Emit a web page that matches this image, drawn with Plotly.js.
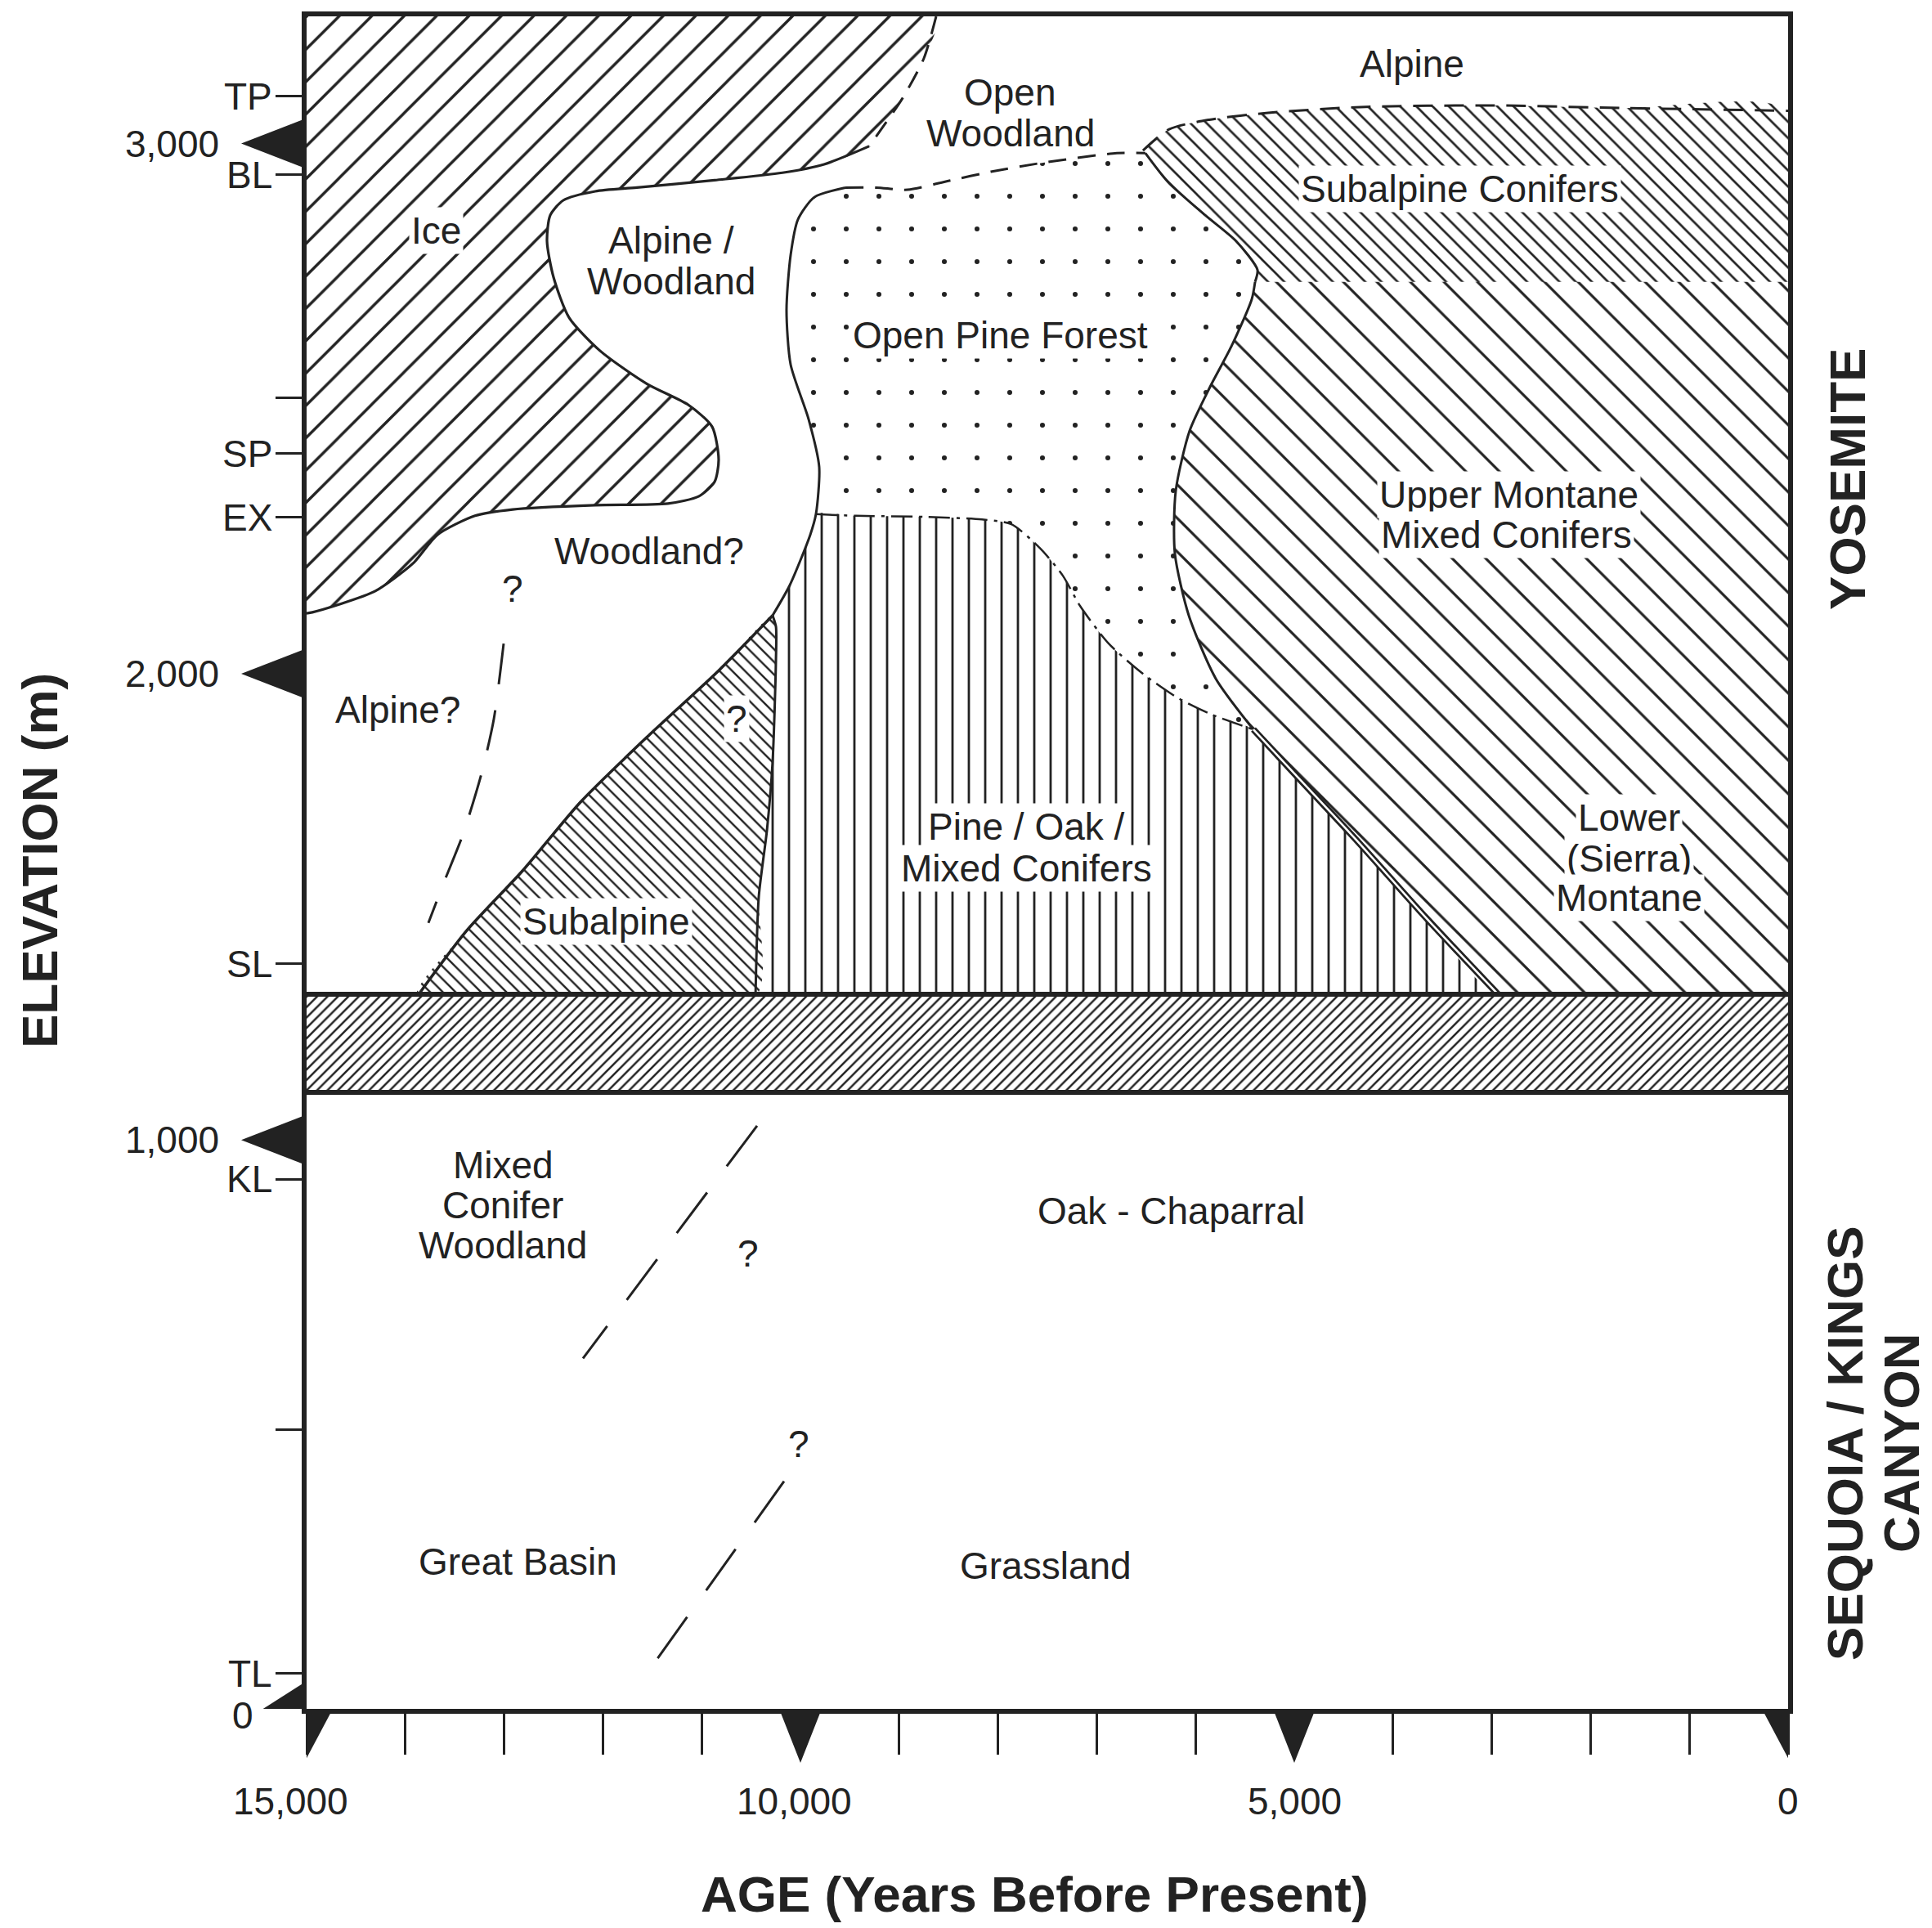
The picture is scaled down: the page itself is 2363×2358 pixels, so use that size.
<!DOCTYPE html>
<html>
<head>
<meta charset="utf-8">
<script src="https://cdn.plot.ly/plotly-3.0.1.min.js"></script>
<style>html,body{margin:0;padding:0;background:#fff}#chart{width:2363px;height:2358px}</style>
</head>
<body>
<div id="chart"></div>
<script>
// ---------------- DATA (age in years BP, elevation in m) ----------------
// axis extents
const ageRange = [15000, 0];
const yosemiteElevRange = [1391, 3240];
const sequoiaElevRange = [0, 1088];

// x axis ticks
const ageMinorTicks = [15000, 14000, 13000, 12000, 11000, 10000, 9000, 8000, 7000, 6000, 5000, 4000, 3000, 2000, 1000, 0];
const ageMajorTicks = [15000, 10000, 5000, 0];
const ageMajorLabels = ['15,000', '10,000', '5,000', '0'];

// y axis: elevation markers and site ticks
const yoMarkElev = [3000, 2000];
const yoMarkText = ['3,000', '2,000'];
const sqMarkElev = [1000, 0];
const sqMarkText = ['1,000', '0'];
const yoSiteElev = [3089, 2941, 2521, 2415, 2295, 1453];
const yoSiteText = ['TP', 'BL', '', 'SP', 'EX', 'SL'];
const sqSiteElev = [931, 491, 62];
const sqSiteText = ['KL', '', 'TL'];

// ---- Yosemite boundaries ----
const iceDashAge = [8626, 8750, 8965, 9305];
const iceDashElev = [3240, 3161, 3086, 2995];
const iceEdgeAge = [9305, 9760, 10182, 10869, 11656, 12078, 12401, 12533, 12566, 12500, 12343, 12028, 11556, 11134, 10894, 10828, 10869, 11027, 11341, 12078, 12914, 13295, 13676, 13924, 14305, 14685, 14942, 15000];
const iceEdgeElev = [2995, 2961, 2945, 2931, 2917, 2910, 2893, 2865, 2816, 2748, 2672, 2609, 2547, 2507, 2466, 2404, 2362, 2335, 2321, 2318, 2310, 2298, 2262, 2208, 2156, 2130, 2116, 2114];

const opfLeftAge = [9545, 9859, 10025, 10099, 10141, 10099, 9917, 9810, 9843, 9901, 10108, 10282];
const opfLeftElev = [2917, 2899, 2857, 2790, 2686, 2583, 2480, 2390, 2301, 2262, 2167, 2110];

const subLeftAge = [10282, 10828, 11523, 12227, 12806, 13386, 13882];
const subLeftElev = [2110, 2006, 1886, 1758, 1630, 1514, 1391];

const opfTopAge = [9545, 9230, 8916, 8493, 8071, 7542, 6797, 6507];
const opfTopElev = [2917, 2917, 2913, 2930, 2947, 2964, 2982, 2982];

const pineTopAge = [9843, 9437, 8742, 8162, 7864, 7575, 7343, 7169, 6879, 6532, 6184, 5836, 5414];
const pineTopElev = [2301, 2298, 2296, 2291, 2282, 2237, 2185, 2128, 2057, 2000, 1955, 1923, 1895];

const rightUpperAge = [6507, 6275, 5902, 5588, 5373, 5397];
const rightUpperElev = [2982, 2927, 2865, 2816, 2762, 2739];
const rightLowerAge = [5397, 5431, 5638, 5853, 6060, 6200, 6209, 6068, 5795, 5414];
const rightLowerElev = [2739, 2706, 2617, 2541, 2458, 2345, 2227, 2110, 1991, 1895];

const lowerMontAge = [5414, 5000, 4379, 3667, 2914];
const lowerMontElev = [1895, 1812, 1688, 1540, 1391];

const subConTopAge = [6532, 6267, 5861, 5265, 4330, 2997, 1664, 0];
const subConTopElev = [2987, 3027, 3045, 3058, 3069, 3072, 3067, 3062];
const subConBaseElev = 2739;

const subRightAge = [10282, 10248, 10248, 10282, 10339, 10422, 10455];
const subRightElev = [2110, 2089, 2026, 1833, 1705, 1579, 1391];

const alpineQAge = [13005, 13104, 13229, 13419, 13609, 13767];
const alpineQElev = [2057, 1915, 1812, 1696, 1607, 1530];

// ---- Sequoia / Kings Canyon boundaries ----
const sqLine1Age = [10439, 12202];
const sqLine1Elev = [1025, 616];
const sqLine2Age = [10166, 11457];
const sqLine2Elev = [400, 86];

// ---- labels ----
const topLabelText = ['Ice', 'Alpine /', 'Woodland', 'Open', 'Woodland', 'Alpine', 'Subalpine Conifers', 'Open Pine Forest', 'Upper Montane', 'Mixed Conifers', 'Woodland?', '?', 'Alpine?', '?', 'Pine / Oak /', 'Mixed Conifers', 'Lower', '(Sierra)', 'Montane', 'Subalpine'];
const topLabelAge = [13692, 11308, 11308, 7873, 7873, 3808, 3320, 7972, 2823, 2848, 11532, 12914, 14073, 10646, 7715, 7715, 1614, 1614, 1614, 11970];
const topLabelElev = [2836, 2818, 2741, 3097, 3019, 3150, 2914, 2638, 2338, 2262, 2231, 2160, 1932, 1915, 1711, 1633, 1728, 1652, 1577, 1533];

const botLabelText = ['Mixed', 'Conifer', 'Woodland', 'Oak - Chaparral', '?', '?', 'Great Basin', 'Grassland'];
const botLabelAge = [13013, 13013, 13013, 6250, 10530, 10017, 12864, 7517];
const botLabelElev = [956, 885, 815, 876, 800, 466, 258, 252];

// ---------------- DRAWING ----------------
const INK = '#222222';
const FONT = 'Liberation Sans, Arial, Helvetica, sans-serif';
const BOLD = 'Liberation Sans, Arial, Helvetica, sans-serif';
const SMOOTH = 0.7;
// labels that sit inside hatched areas get a white knock-out box
const knockout = new Set(['Ice', 'Subalpine Conifers', 'Open Pine Forest', 'Upper Montane', 'Mixed Conifers', 'Pine / Oak /', 'Lower', '(Sierra)', 'Montane', 'Subalpine']);

function pat(shape, size, solidity) {
  return {shape: shape, size: size, solidity: solidity, fgcolor: INK, bgcolor: 'white', fillmode: 'replace'};
}
function poly(x, y, pattern, yaxis, linear) {
  return {type: 'scatter', mode: 'lines', x: x, y: y, xaxis: 'x', yaxis: yaxis, fill: 'toself',
    fillcolor: 'white', fillpattern: pattern,
    line: {width: 0, color: 'rgba(0,0,0,0)', shape: linear ? 'linear' : 'spline', smoothing: SMOOTH},
    hoverinfo: 'skip', showlegend: false};
}
function edge(x, y, yaxis, width, dash, color) {
  return {type: 'scatter', mode: 'lines', x: x, y: y, xaxis: 'x', yaxis: yaxis,
    line: {color: color || INK, width: width, dash: dash || 'solid', shape: 'spline', smoothing: SMOOTH},
    hoverinfo: 'skip', showlegend: false};
}
const rev = a => a.slice().reverse();
const topElev = yosemiteElevRange[1], baseElev = yosemiteElevRange[0];
const ageOld = ageRange[0], ageNow = ageRange[1];

// polygons
const iceX = [ageOld].concat(iceDashAge, iceEdgeAge.slice(1));
const iceY = [topElev].concat(iceDashElev, iceEdgeElev.slice(1));

const opfX = opfLeftAge.slice(0, 9).concat(pineTopAge.slice(1), rev(rightLowerAge).slice(1), rev(rightUpperAge).slice(1), rev(opfTopAge).slice(1));
const opfY = opfLeftElev.slice(0, 9).concat(pineTopElev.slice(1), rev(rightLowerElev).slice(1), rev(rightUpperElev).slice(1), rev(opfTopElev).slice(1));

const pineX = pineTopAge.concat(lowerMontAge.slice(1), rev(subRightAge), rev(opfLeftAge.slice(8)).slice(1));
const pineY = pineTopElev.concat(lowerMontElev.slice(1), rev(subRightElev), rev(opfLeftElev.slice(8)).slice(1));

const subX = subRightAge.concat(rev(subLeftAge));
const subY = subRightElev.concat(rev(subLeftElev));

const scX = rightUpperAge.concat([ageNow, ageNow], rev(subConTopAge).slice(1));
const scY = rightUpperElev.concat([subConBaseElev, subConTopElev[subConTopElev.length - 1]], rev(subConTopElev).slice(1));

const umX = rightLowerAge.concat(lowerMontAge.slice(1), [ageNow, ageNow]);
const umY = rightLowerElev.concat(lowerMontElev.slice(1), [baseElev, subConBaseElev]);

const traces = [
  poly(iceX, iceY, pat('/', 28, 0.12), 'y'),
  poly(opfX, opfY, pat('.', 40, 0.018), 'y'),
  poly(pineX, pineY, pat('|', 20, 0.14), 'y'),
  poly(subX, subY, pat('\\', 11, 0.22), 'y'),
  poly(scX, scY, pat('\\', 14, 0.19), 'y'),
  poly(umX, umY, pat('\\', 29, 0.11), 'y'),
  // break band between the two panels
  poly([ageOld, ageNow, ageNow, ageOld], [0, 0, 1, 1], pat('/', 9, 0.28), 'y3', true),
  // boundaries
  edge(iceDashAge, iceDashElev, 'y', 3, '22px,14px'),
  edge(iceEdgeAge, iceEdgeElev, 'y', 3.2),
  edge(opfLeftAge, opfLeftElev, 'y', 3),
  edge(subLeftAge, subLeftElev, 'y', 3.5),
  edge(opfTopAge, opfTopElev, 'y', 3, '22px,14px'),
  edge(pineTopAge, pineTopElev, 'y', 2.5, '26px,8px,4px,8px'),
  edge(rightUpperAge, rightUpperElev, 'y', 3),
  edge(rightLowerAge, rightLowerElev, 'y', 3),
  edge(lowerMontAge, lowerMontElev, 'y', 8),
  edge(lowerMontAge, lowerMontElev, 'y', 2.5, 'solid', 'white'),
  edge(subConTopAge, subConTopElev, 'y', 3, '24px,14px'),
  edge(subRightAge, subRightElev, 'y', 3),
  edge(alpineQAge, alpineQElev, 'y', 3, '50px,32px'),
  edge(sqLine1Age, sqLine1Elev, 'y2', 3, '62px,40px'),
  edge(sqLine2Age, sqLine2Elev, 'y2', 3, '62px,40px')
];

// annotations
const ann = [];
topLabelText.forEach((t, i) => {
  ann.push({xref: 'x', yref: 'y', x: topLabelAge[i], y: topLabelElev[i], text: t, showarrow: false,
    font: {family: FONT, size: 46, color: INK}, bgcolor: knockout.has(t) || (t === '?' && i === 13) ? 'white' : 'rgba(0,0,0,0)', borderpad: 2});
});
botLabelText.forEach((t, i) => {
  ann.push({xref: 'x', yref: 'y2', x: botLabelAge[i], y: botLabelElev[i], text: t, showarrow: false,
    font: {family: FONT, size: 46, color: INK}});
});
// y tick labels
function yLab(yref, v, t, xshift, yshift) {
  ann.push({xref: 'paper', yref: yref, x: 0, y: v, text: t, showarrow: false, xanchor: 'right', yanchor: 'middle',
    xshift: xshift, yshift: yshift || 0, font: {family: FONT, size: 46, color: INK}});
}
yoMarkElev.forEach((v, i) => yLab('y', v, yoMarkText[i], -105));
sqMarkElev.forEach((v, i) => yLab('y2', v, sqMarkText[i], v === 0 ? -63 : -105, v === 0 ? -8 : 0));
yoSiteElev.forEach((v, i) => { if (yoSiteText[i]) yLab('y', v, yoSiteText[i], -40); });
sqSiteElev.forEach((v, i) => { if (sqSiteText[i]) yLab('y2', v, sqSiteText[i], -40); });
// x tick labels
ageMajorTicks.forEach((v, i) => {
  ann.push({xref: 'x', yref: 'paper', x: v, y: 0, text: ageMajorLabels[i], showarrow: false, xanchor: 'center', yanchor: 'middle',
    yshift: -113, xshift: i === 0 ? -20 : (i === 1 ? -8 : 0), font: {family: FONT, size: 46, color: INK}});
});
// titles
ann.push({xref: 'paper', yref: 'paper', x: 0.4917, y: -0.1092, text: '<b>AGE (Years Before Present)</b>', showarrow: false,
  xanchor: 'center', yanchor: 'middle', font: {family: BOLD, size: 62, color: INK}});
ann.push({xref: 'paper', yref: 'paper', x: -0.1805, y: 0.5014, text: '<b>ELEVATION (m)</b>', showarrow: false, textangle: -90,
  xanchor: 'center', yanchor: 'middle', font: {family: BOLD, size: 62, color: INK}});
ann.push({xref: 'paper', yref: 'paper', x: 1.0403, y: 0.7266, text: '<b>YOSEMITE</b>', showarrow: false, textangle: -90,
  xanchor: 'center', yanchor: 'middle', font: {family: BOLD, size: 62, color: INK}});
ann.push({xref: 'paper', yref: 'paper', x: 1.0381, y: 0.157, text: '<b>SEQUOIA / KINGS</b>', showarrow: false, textangle: -90,
  xanchor: 'center', yanchor: 'middle', font: {family: BOLD, size: 62, color: INK}});
ann.push({xref: 'paper', yref: 'paper', x: 1.0762, y: 0.157, text: '<b>CANYON</b>', showarrow: false, textangle: -90,
  xanchor: 'center', yanchor: 'middle', font: {family: BOLD, size: 62, color: INK}});

// axis marker triangles
const shapes = [];
function triX(age, path) {
  shapes.push({type: 'path', xref: 'x', yref: 'paper', xsizemode: 'pixel', ysizemode: 'pixel', xanchor: age, yanchor: 0,
    path: path, fillcolor: INK, line: {width: 0}, layer: 'above'});
}
function triY(yref, elev, path) {
  shapes.push({type: 'path', xref: 'paper', yref: yref, xsizemode: 'pixel', ysizemode: 'pixel', xanchor: 0, yanchor: elev,
    path: path, fillcolor: INK, line: {width: 0}, layer: 'above'});
}
ageMajorTicks.forEach((v, i) => {
  if (i === 0) triX(v, 'M-3,0 L32,0 L-3,-66 Z');
  else if (i === ageMajorTicks.length - 1) triX(v, 'M3,0 L-32,0 L3,-66 Z');
  else triX(v, 'M-26,0 L26,0 L0,-66 Z');
});
yoMarkElev.forEach(v => triY('y', v, 'M0,-31 L0,31 L-80,0 Z'));
sqMarkElev.forEach(v => {
  if (v === 0) triY('y2', v, 'M0,-3 L-58,-3 L0,34 Z');
  else triY('y2', v, 'M0,-31 L0,31 L-80,0 Z');
});

const axBase = {showgrid: false, zeroline: false, showline: true, mirror: true, linewidth: 6, linecolor: INK, fixedrange: true};
const layout = {
  width: 2363, height: 2358,
  margin: {l: 375, r: 176, t: 20, b: 268, pad: 0},
  paper_bgcolor: 'white', plot_bgcolor: 'white', showlegend: false,
  font: {family: FONT, size: 46, color: INK},
  xaxis: Object.assign({}, axBase, {range: ageRange, anchor: 'y2', mirror: 'all', ticks: 'outside', ticklen: 50, tickwidth: 3,
    tickcolor: INK, tickvals: ageMinorTicks, showticklabels: false}),
  yaxis: Object.assign({}, axBase, {domain: [0.4208, 1], range: yosemiteElevRange, anchor: 'x', ticks: 'outside', ticklen: 32,
    tickwidth: 3, tickcolor: INK, tickvals: yoSiteElev, showticklabels: false}),
  yaxis2: Object.assign({}, axBase, {domain: [0, 0.3657], range: sequoiaElevRange, anchor: 'x', ticks: 'outside', ticklen: 32,
    tickwidth: 3, tickcolor: INK, tickvals: sqSiteElev, showticklabels: false}),
  yaxis3: Object.assign({}, axBase, {domain: [0.3657, 0.4208], range: [0, 1], anchor: 'x', ticks: '', showticklabels: false}),
  annotations: ann,
  shapes: shapes
};
Plotly.newPlot('chart', traces, layout, {staticPlot: true, displayModeBar: false});
</script>
</body>
</html>
